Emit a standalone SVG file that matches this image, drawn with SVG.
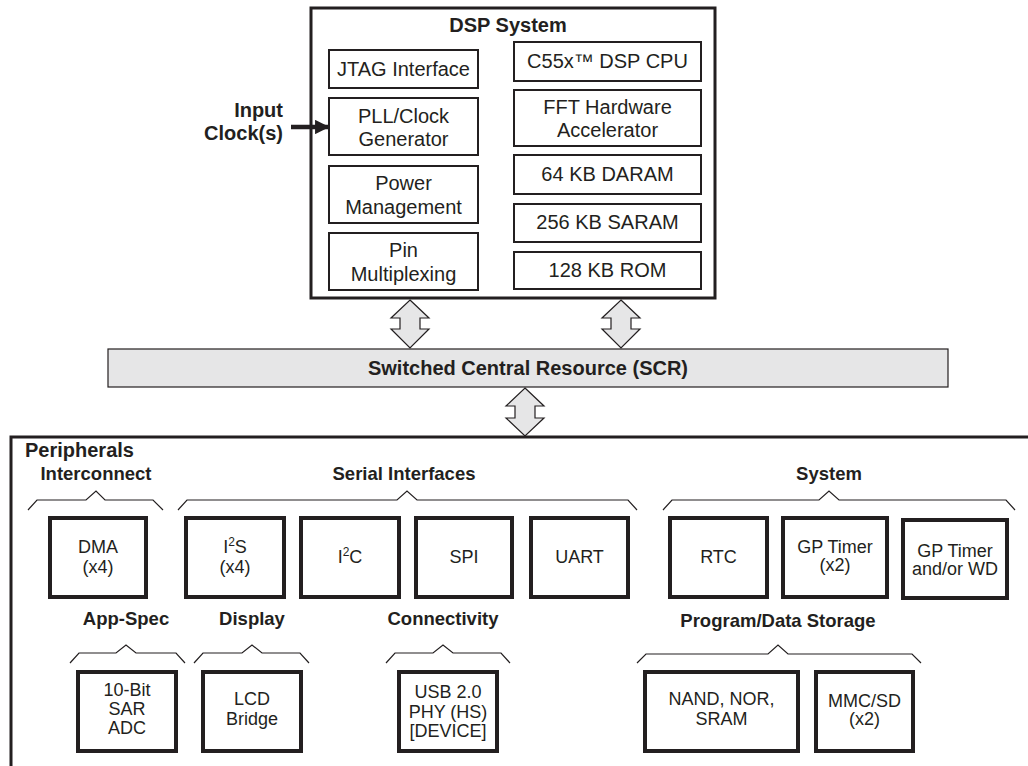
<svg xmlns="http://www.w3.org/2000/svg" width="1028" height="766" viewBox="0 0 1028 766">
<style>
text{font-family:"Liberation Sans",Arial,sans-serif;fill:#231f20}
.t{font-size:20px;text-anchor:middle}
.b{font-weight:bold}
.h{font-size:18.5px;font-weight:bold;text-anchor:middle}
.p{font-size:18px;text-anchor:middle}
.in{fill:#fff;stroke:#231f20;stroke-width:2}
.pb{fill:#fff;stroke:#231f20;stroke-width:4}
.br{fill:none;stroke:#231f20;stroke-width:1.2}
.da{fill:#e6e6e7;stroke:#231f20;stroke-width:1.2}
</style>
<defs>
<marker id="ah" viewBox="0 0 10 10" refX="9" refY="5" markerWidth="3.2" markerHeight="3.2" orient="auto" markerUnits="strokeWidth">
<path d="M0,0 L10,5 L0,10 z" fill="#231f20"/>
</marker>
</defs>

<g id="dsp-system">
<rect x="311" y="8" width="404" height="290" fill="#fff" stroke="#231f20" stroke-width="3"/>
<text class="t b" x="508" y="32">DSP System</text>
</g>
<g id="jtag"><rect class="in" x="329" y="50" width="149" height="38"/><text class="t" x="403.5" y="76">JTAG Interface</text></g>
<g id="pll"><rect class="in" x="329" y="98" width="149" height="57"/><text class="t" x="403.5" y="123">PLL/Clock</text><text class="t" x="403.5" y="146">Generator</text></g>
<g id="power"><rect class="in" x="329" y="166" width="149" height="57"/><text class="t" x="403.5" y="190">Power</text><text class="t" x="403.5" y="214">Management</text></g>
<g id="pinmux"><rect class="in" x="329" y="233" width="149" height="57"/><text class="t" x="403.5" y="257">Pin</text><text class="t" x="403.5" y="281">Multiplexing</text></g>
<g id="cpu"><rect class="in" x="514" y="42" width="187" height="39"/><text class="t" x="607.5" y="68">C55x™ DSP CPU</text></g>
<g id="fft"><rect class="in" x="514" y="90" width="187" height="56"/><text class="t" x="607.5" y="114">FFT Hardware</text><text class="t" x="607.5" y="137">Accelerator</text></g>
<g id="daram"><rect class="in" x="514" y="155" width="187" height="39"/><text class="t" x="607.5" y="181">64 KB DARAM</text></g>
<g id="saram"><rect class="in" x="514" y="204" width="187" height="38"/><text class="t" x="607.5" y="229">256 KB SARAM</text></g>
<g id="rom"><rect class="in" x="514" y="252" width="187" height="37"/><text class="t" x="607.5" y="277">128 KB ROM</text></g>

<g id="input-clock">
<text class="b" font-size="20" text-anchor="end" x="283" y="117">Input</text>
<text class="b" font-size="20" text-anchor="end" x="283" y="140">Clock(s)</text>
</g>

<g id="scr">
<rect x="108" y="349" width="840" height="38" fill="#e6e6e7" stroke="#231f20" stroke-width="1.2"/>
<text class="t b" font-size="20.5" x="528" y="375">Switched Central Resource (SCR)</text>
</g>

<g id="peripherals">
<path d="M11,766 V437 H1028" fill="none" stroke="#231f20" stroke-width="3"/>
<text class="b" font-size="20" x="25" y="457">Peripherals</text>
</g>

<g id="group-labels">
<text class="h" x="96" y="480">Interconnect</text>
<text class="h" x="404" y="480">Serial Interfaces</text>
<text class="h" x="829" y="480">System</text>
<text class="h" x="126" y="625">App-Spec</text>
<text class="h" x="252" y="625">Display</text>
<text class="h" x="443" y="625">Connectivity</text>
<text class="h" x="778" y="627">Program/Data Storage</text>
</g>

<g id="brackets">
<path class="br" d="M28,510 L37,500 H86 L96,491 L105,500 H153 L163,510"/>
<path class="br" d="M178,510 L187,500 H397 L407,491 L417,500 H628 L637,510"/>
<path class="br" d="M663,510 L672,500 H819 L829,491 L839,500 H1006 L1015,510"/>
<path class="br" d="M70,663 L79,653 H116 L126,645 L136,653 H176 L185,663"/>
<path class="br" d="M194,663 L203,653 H242 L252,645 L262,653 H300 L309,663"/>
<path class="br" d="M386,663 L395,653 H433 L443,645 L453,653 H501 L510,663"/>
<path class="br" d="M637,663 L646,654 H768 L778,645 L788,654 H912 L921,663"/>
</g>

<g id="dma"><rect class="pb" x="50" y="518" width="96" height="79"/><text class="p" x="98" y="553">DMA</text><text class="p" x="98" y="573">(x4)</text></g>
<g id="i2s"><rect class="pb" x="186" y="518" width="98" height="79"/><text class="p" x="235" y="553">I<tspan font-size="12" dy="-7">2</tspan><tspan dy="7">S</tspan></text><text class="p" x="235" y="573">(x4)</text></g>
<g id="i2c"><rect class="pb" x="301" y="518" width="98" height="79"/><text class="p" x="350" y="563">I<tspan font-size="12" dy="-7">2</tspan><tspan dy="7">C</tspan></text></g>
<g id="spi"><rect class="pb" x="416" y="518" width="96" height="79"/><text class="p" x="464" y="563">SPI</text></g>
<g id="uart"><rect class="pb" x="531" y="518" width="97" height="79"/><text class="p" x="579.5" y="563">UART</text></g>
<g id="rtc"><rect class="pb" x="670" y="518" width="97" height="79"/><text class="p" x="718.5" y="563">RTC</text></g>
<g id="gptimer"><rect class="pb" x="783" y="518" width="104" height="79"/><text class="p" x="835" y="553">GP Timer</text><text class="p" x="835" y="571">(x2)</text></g>
<g id="gptimer-wd"><rect class="pb" x="903" y="520" width="104" height="78"/><text class="p" x="955" y="557">GP Timer</text><text class="p" x="955" y="575">and/or WD</text></g>

<g id="adc"><rect class="pb" x="78" y="672" width="98" height="79"/><text class="p" font-size="16.5" x="127" y="696">10-Bit</text><text class="p" font-size="16.5" x="127" y="715">SAR</text><text class="p" font-size="16.5" x="127" y="734">ADC</text></g>
<g id="lcd"><rect class="pb" x="203" y="672" width="98" height="79"/><text class="p" x="252" y="705">LCD</text><text class="p" x="252" y="725">Bridge</text></g>
<g id="usb"><rect class="pb" x="399" y="672" width="98" height="79"/><text class="p" x="448" y="698">USB 2.0</text><text class="p" x="448" y="718">PHY (HS)</text><text class="p" x="448" y="737">[DEVICE]</text></g>
<g id="nand"><rect class="pb" x="645" y="672" width="153" height="79"/><text class="p" x="721.5" y="705">NAND, NOR,</text><text class="p" x="721.5" y="725">SRAM</text></g>
<g id="mmc"><rect class="pb" x="816" y="672" width="97" height="79"/><text class="p" x="864.5" y="707">MMC/SD</text><text class="p" x="864.5" y="725">(x2)</text></g>

<g id="connectors">
<line x1="291" y1="127" x2="328" y2="127" stroke="#231f20" stroke-width="4.5" marker-end="url(#ah)"/>
<polygon class="da" points="410,300 429,318 420,318 420,329 429,329 410,348 391,329 400,329 400,318 391,318"/>
<polygon class="da" points="621,300 640,318 631,318 631,329 640,329 621,348 602,329 611,329 611,318 602,318"/>
<polygon class="da" points="525,388 544,406 535,406 535,418 544,418 525,436 506,418 515,418 515,406 506,406"/>
</g>
</svg>
